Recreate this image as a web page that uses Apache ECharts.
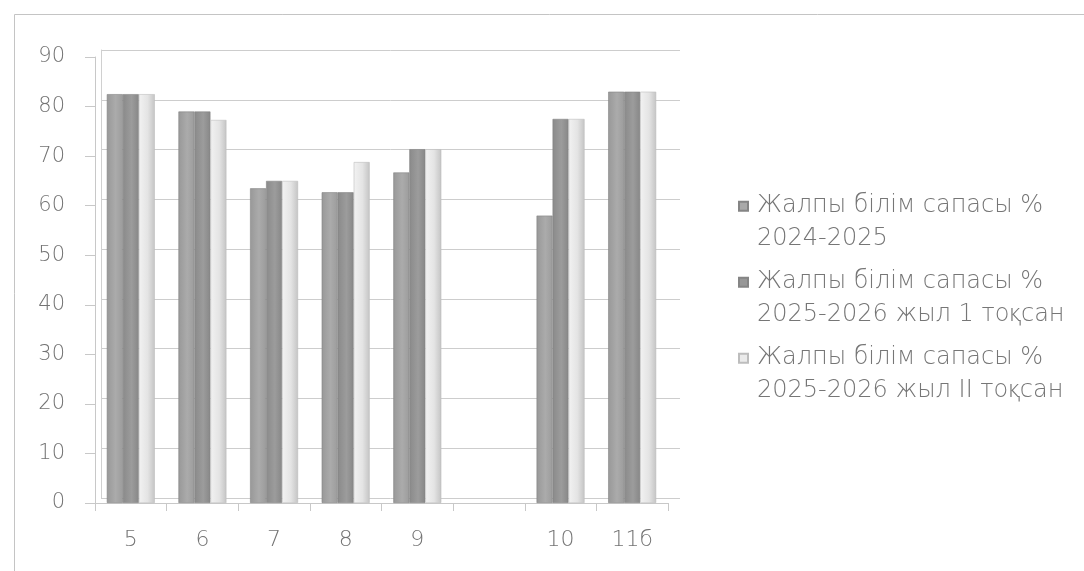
<!DOCTYPE html>
<html>
<head>
<meta charset="utf-8">
<script src="https://cdn.jsdelivr.net/npm/echarts@6/dist/echarts.min.js"></script>
<style>
html,body{margin:0;padding:0;background:#fff;}
#chart{width:1084px;height:571px;}
</style>
</head>
<body>
<div id="chart"></div>
<script>
const categories = ['5', '6', '7', '8', '9', '', '10', '11б'];
const seriesNames = [
  'Жалпы білім сапасы %\n2024-2025',
  'Жалпы білім сапасы %\n2025-2026 жыл 1 тоқсан',
  'Жалпы білім сапасы %\n2025-2026 жыл II тоқсан'
];
const values2024 = [82.5, 79, 63.5, 62.7, 66.7, null, 58, 83];
const values2025q1 = [82.5, 79, 65, 62.7, 71.4, null, 77.5, 83];
const values2025q2 = [82.5, 77.3, 65, 68.8, 71.4, null, 77.5, 83];
const yTicks = [0, 10, 20, 30, 40, 50, 60, 70, 80, 90];

function grad(c1, c2, c3) {
  return new echarts.graphic.LinearGradient(0, 0, 1, 0, [
    { offset: 0, color: c1 }, { offset: 0.55, color: c2 }, { offset: 1, color: c3 }
  ]);
}
const colors = [
  grad('#989898', '#ababab', '#9c9c9c'),
  grad('#8a8a8a', '#9c9c9c', '#878787'),
  grad('#f2f2f2', '#e4e4e4', '#c4c4c4')
];
const legendColors = ['#a9a9a9', '#979797', '#ebebeb'];
const fontFam = '"DejaVu Sans", "Open Sans", sans-serif';
const textColor = '#737373';

const chart = echarts.init(document.getElementById('chart'));
const seriesData = [values2024, values2025q1, values2025q2];
chart.setOption({
  animation: false,
  backgroundColor: '#fff',
  graphic: [{
    type: 'rect', left: 12, top: 12, silent: true, z: -10,
    shape: { width: 1100, height: 600 },
    style: { fill: 'none', stroke: '#c4c4c4', lineWidth: 1 }
  }],
  legend: {
    orient: 'vertical',
    left: 733,
    top: 184,
    itemGap: 10,
    itemWidth: 9,
    itemHeight: 41,
    icon: 'path://M0,0L10,0L10,10L0,10ZM0,45',
    data: seriesNames.map((n, i) => ({ name: n, itemStyle: { color: legendColors[i] } })),
    textStyle: { fontFamily: fontFam, fontWeight: 200, fontSize: 24, color: '#767676', lineHeight: 33, padding: [0, 0, 0, 4] }
  },
  grid: [
    { left: 95, right: 416, top: 57, bottom: 68 },
    { left: 101, right: 404, top: 50, bottom: 73 }
  ],
  xAxis: [{
    type: 'category',
    data: categories,
    gridIndex: 0,
    axisLine: { lineStyle: { color: '#c8c8c8' } },
    axisTick: { show: true, length: 8, lineStyle: { color: '#c8c8c8' } },
    axisLabel: { fontFamily: fontFam, fontWeight: 200, fontSize: 22, color: textColor, margin: 26 },
    splitLine: { show: false }
  }, {
    type: 'category', data: categories, gridIndex: 1, show: false
  }],
  yAxis: [{
    type: 'value', gridIndex: 0, min: 0, max: 90, interval: 10,
    axisLine: { show: true, lineStyle: { color: '#c8c8c8' } },
    axisTick: { show: true, length: 10, lineStyle: { color: '#c8c8c8' } },
    axisLabel: { fontFamily: fontFam, fontWeight: 200, fontSize: 21, color: textColor, margin: 30,
      formatter: v => yTicks.includes(v) ? String(v) : '' },
    splitLine: { show: false }
  }, {
    type: 'value', gridIndex: 1, min: 0, max: 90, interval: 10,
    axisLine: { show: true, lineStyle: { color: '#d0d0d0' } },
    axisTick: { show: false },
    axisLabel: { show: false },
    splitLine: { show: true, lineStyle: { color: '#cdcdcd', width: 1 } },
    z: 0
  }],
  series: seriesData.map((d, i) => ({
    name: seriesNames[i],
    type: 'bar',
    xAxisIndex: 0,
    yAxisIndex: 0,
    data: d,
    barWidth: 16,
    barGap: '0%',
    z: 5,
    itemStyle: { color: colors[i], borderColor: i === 2 ? '#bdbdbd' : '#858585', borderWidth: 0.6 }
  }))
});
</script>
</body>
</html>
